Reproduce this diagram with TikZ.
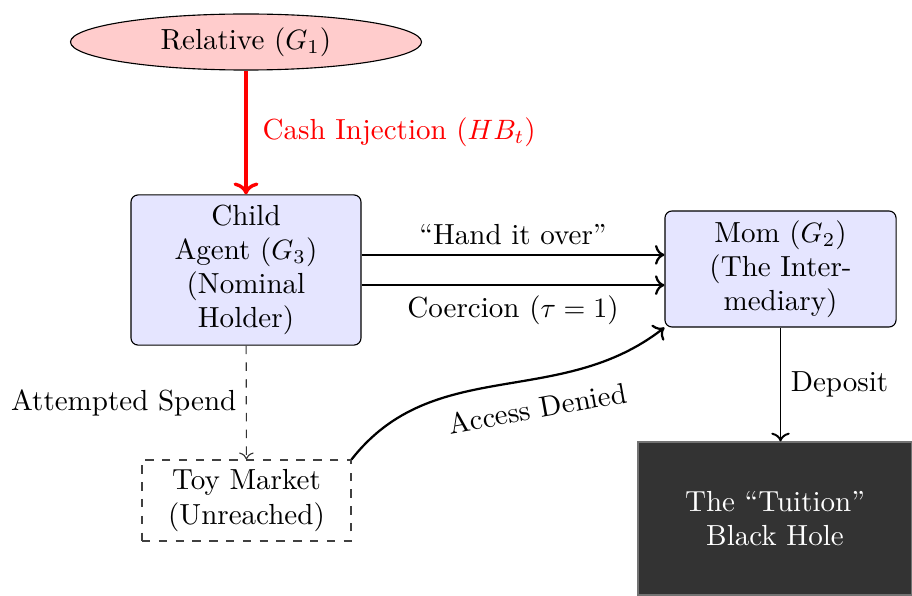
\documentclass[tikz,border=0pt]{standalone}
\usetikzlibrary{shapes.geometric,arrows.meta}
\begin{document}
\begin{tikzpicture}[x=0.357pt,y=0.357pt,
  every node/.style={font=\fontsize{10.37}{12.2}\selectfont},
  agentbox/.style={draw, rounded corners=2.5pt, fill=blue!10, align=center, inner sep=0pt},
  flow/.style={->, thick}]
\useasboundingbox (0,0) rectangle (912,595);
\node[ellipse, draw, fill=red!20, minimum width=125.3pt, minimum height=20pt, inner sep=0pt] (rel) at (246,553) {Relative ($G_1$)};
\node[agentbox, minimum width=82.1pt, minimum height=53.6pt] (child) at (246,325) {Child\\Agent ($G_3$)\\(Nominal\\Holder)};
\node[agentbox, minimum width=82.5pt, minimum height=41.4pt] (mom) at (780.5,326) {Mom ($G_2$)\\(The Inter-\\mediary)};
\node[draw=black!75, dashed, thin, align=center, minimum width=74.6pt, minimum height=28.9pt, inner sep=0pt] (toy) at (246.5,94.5) {Toy Market\\(Unreached)};
\node[draw=black!55, fill=black!80, text=white, align=center, minimum width=97.8pt, minimum height=54.6pt, inner sep=0pt] (hole) at (775,76.5) {The ``Tuition''\\Black Hole};
\draw[->, very thick, red] (rel) -- node[right, text=red, xshift=2pt] {Cash Injection ($HB_t$)} (child);
\draw[flow] ([yshift=5.4pt]child.east) -- node[above] {``Hand it over''} ([yshift=5.4pt]child.east -| mom.west);
\draw[flow] ([yshift=-5.4pt]child.east) -- node[below] {Coercion ($\tau=1$)} ([yshift=-5.4pt]child.east -| mom.west);
\draw[->, dashed, draw=black!80] (child) -- node[left, text=black] {Attempted Spend} (toy);
\draw[flow] (toy.north east) to[out=52, in=218] node[sloped, below=3pt, pos=0.6] {Access Denied} (mom.south west);
\draw[->, line width=0.7pt] (mom.south) -- node[right] {Deposit} (mom.south |- hole.north);
\end{tikzpicture}
\end{document}
